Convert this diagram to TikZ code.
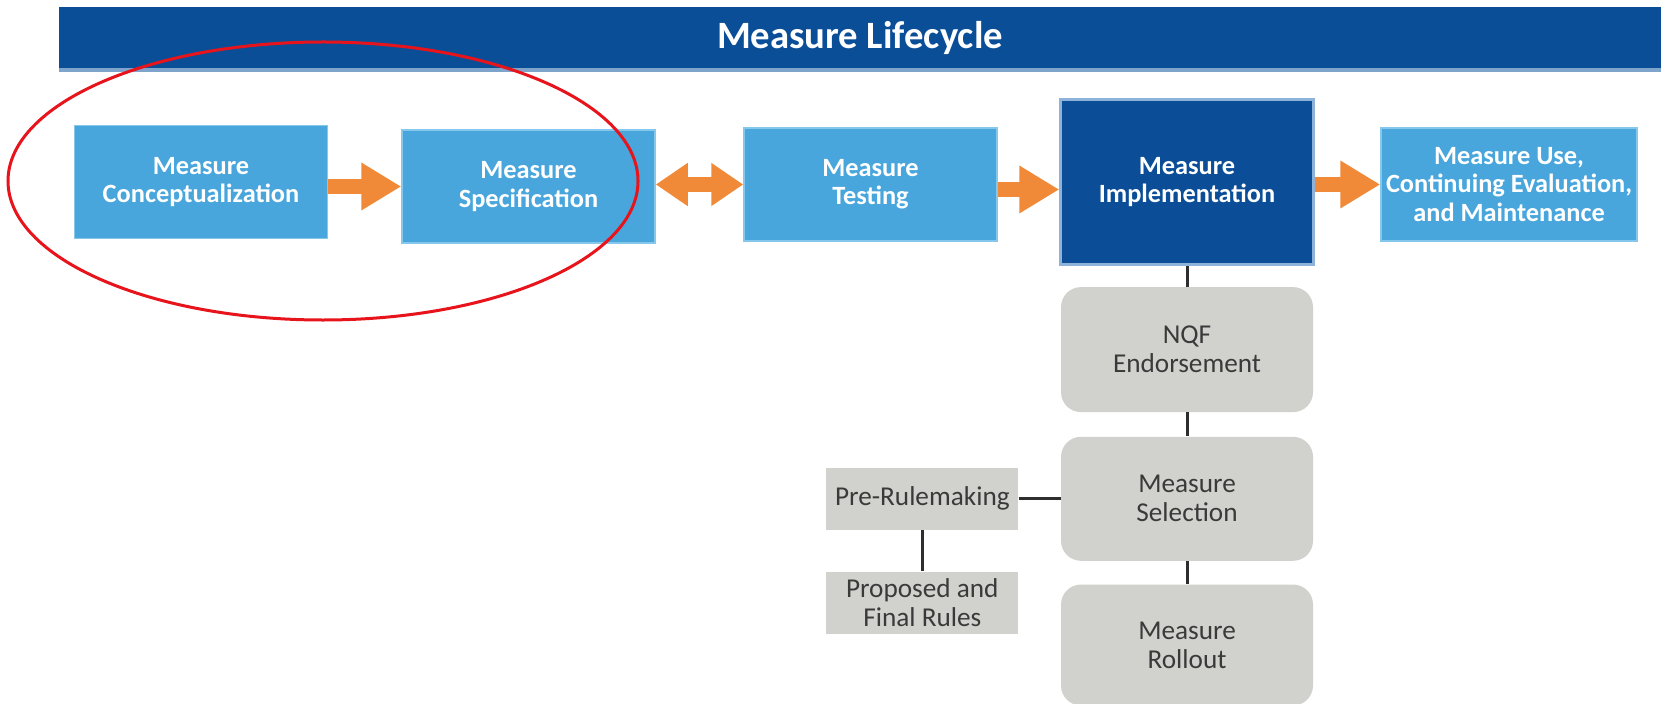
\documentclass[tikz,border=0pt]{standalone}
\usepackage{fontspec}
\setmainfont{Carlito}
\usepackage{xcolor}
\usetikzlibrary{shapes.geometric, arrows.meta, positioning}

\definecolor{bannerblue}{HTML}{0B4E98}
\definecolor{bannerlight}{HTML}{7FA4CC}
\definecolor{stageblue}{HTML}{49A6DC}
\definecolor{stageedge}{HTML}{86C8EC}
\definecolor{implblue}{HTML}{0B4D97}
\definecolor{impledge}{HTML}{8DB3DA}
\definecolor{stepgray}{HTML}{D1D1CD}
\definecolor{textgray}{HTML}{3A3A3A}
\definecolor{linkgray}{HTML}{2E2E2E}
\definecolor{floworange}{HTML}{F08A38}
\definecolor{markred}{HTML}{E8141C}

\begin{document}
\begin{tikzpicture}[
    x=0.2mm, y=-0.2mm,
    every node/.style={font=\fontsize{15.5}{16.5}\selectfont},
    banner/.style={rectangle, fill=bannerblue, text=white, inner sep=0pt,
                   minimum width=320.4mm, minimum height=12.2mm,
                   font=\fontsize{22}{24}\selectfont\bfseries},
    stage/.style={rectangle, draw=stageedge, fill=stageblue, line width=0.3mm,
                  minimum width=50.6mm, minimum height=22.5mm, inner sep=1pt,
                  align=center, text=white,
                  font=\fontsize{15}{16}\selectfont\bfseries},
    current/.style={stage, draw=impledge, fill=implblue, line width=0.5mm,
                    minimum height=33mm},
    substep/.style={rectangle, rounded corners=4mm, fill=stepgray,
                    minimum width=50.4mm, minimum height=24.8mm, inner sep=1pt,
                    align=center, text=textgray},
    rulebox/.style={rectangle, fill=stepgray, minimum width=38.4mm,
                    minimum height=12.5mm, inner sep=1pt, align=center,
                    text=textgray},
    flow/.style={-{Triangle[length=8mm, width=9mm]}, draw=floworange,
                 line width=3.1mm},
    twoway/.style={{Triangle[length=6.4mm, width=8.2mm]}-{Triangle[length=6.4mm, width=8.2mm]},
                   draw=floworange, line width=3mm},
    link/.style={draw=linkgray, line width=0.6mm}
]

% page
\fill[white] (0,0) rectangle (1662,704);
\useasboundingbox (0,0) rectangle (1662,704);

% =========================================================
% TITLE BAR
% =========================================================
\node[banner] (title) at (860,37.5) {Measure Lifecycle};
\fill[bannerlight] (title.south west) rectangle ([yshift=-0.8mm]title.south east);

% =========================================================
% MAIN ROW: lifecycle stages
% =========================================================
\node[stage] (concept) at (201,182) {Measure\\Conceptualization};
\node[stage, right=14.6mm of concept, yshift=-0.9mm] (spec) {Measure\\Specification};
\node[stage, right=17.5mm of spec, yshift=0.4mm] (testing) {Measure\\Testing};
\node[current, right=12.3mm of testing, yshift=0.5mm] (implement)
    {Measure\\Implementation};
\node[stage, right=13.1mm of implement, yshift=-0.5mm, minimum width=51.2mm] (use)
    {Measure Use,\\Continuing Evaluation,\\and Maintenance};

% =========================================================
% IMPLEMENTATION SUB-STEPS
% =========================================================
\node[substep, below=4.2mm of implement, minimum height=25mm] (nqf) {NQF\\Endorsement};
\node[substep, below=4.8mm of nqf] (select) {Measure\\Selection};
\node[substep, below=4.6mm of select, minimum height=24.2mm] (rollout) {Measure\\Rollout};

% rulemaking branch off selection
\node[rulebox, left=8.4mm of select] (prerule) {Pre-Rulemaking};
\node[rulebox, below=8.2mm of prerule, minimum height=12.4mm] (rules)
    {Proposed and\\Final Rules};

% =========================================================
% CONNECTORS
% =========================================================
\draw[flow] (concept.east |- spec) -- (spec.west);
\draw[twoway] (spec.east |- testing) -- (testing.west);
\draw[flow] ([yshift=-1mm]testing.east) -- ([yshift=-1mm]testing.east -| implement.west);
\draw[flow] (implement.east |- use) -- (use.west);

\draw[link] (implement.south) -- (nqf.north);
\draw[link] (nqf.south) -- (select.north);
\draw[link] (select.south) -- (rollout.north);
\draw[link] (prerule.east) -- (select.west |- prerule);
\draw[link] (prerule.south) -- (rules.north);

% red highlight round the first two stages
\node[ellipse, draw=markred, line width=0.6mm, inner sep=0pt,
      minimum width=126mm, minimum height=55.6mm] (focus) at (323,181) {};

\end{tikzpicture}
\end{document}
